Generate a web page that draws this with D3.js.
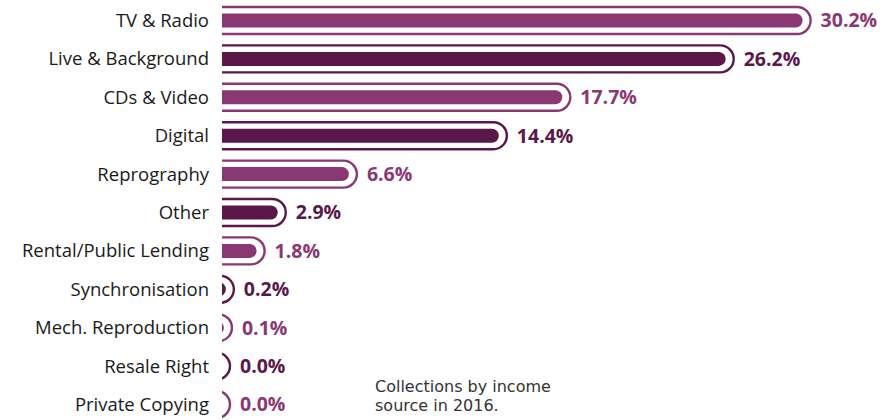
<!DOCTYPE html>
<html>
<head>
<meta charset="utf-8">
<script src="https://cdn.jsdelivr.net/npm/d3@7"></script>
<style>
  body { margin: 0; background: #fff; }
  svg { display: block; font-family: "Open Sans", Lato, sans-serif; }
</style>
</head>
<body>
<div id="chart"></div>
<script>
const w = 892;
const h = 420;

const categories = [
    "TV & Radio",
    "Live & Background",
    "CDs & Video",
    "Digital",
    "Reprography",
    "Other",
    "Rental/Public Lending",
    "Synchronisation",
    "Mech. Reproduction",
    "Resale Right",
    "Private Copying"
];
const shares = [30.2, 26.2, 17.7, 14.4, 6.6, 2.9, 1.8, 0.2, 0.1, 0.0, 0.0];
const note = ["Collections by income", "source in 2016."];

const light = "#8a3873";
const dark = "#5b1749";
const color = i => i % 2 === 0 ? light : dark;

const left = 222;

const xScale = d3.scaleLinear()
    .domain([0, 31])
    .range([left, 818]);

const yScale = d3.scalePoint()
    .domain(categories)
    .range([20.5, 404.5]);

const data = categories.map((c, i) => ({ name: c, value: shares[i], i: i }));

const svg = d3.select('#chart')
    .append('svg')
    .attr('width', w)
    .attr('height', h);

// clip in each row's local space, cuts the capsules flat on the left
svg.append('clipPath')
    .attr('id', 'clip')
    .append('rect')
    .attr('x', left)
    .attr('y', -20)
    .attr('width', w - left)
    .attr('height', 40);

const rows = svg.selectAll('g.row')
    .data(data)
    .enter()
    .append('g')
    .attr('class', 'row')
    .attr('transform', d => 'translate(0,' + yScale(d.name) + ')');

const bars = rows.append('g').attr('clip-path', 'url(#clip)');

// outline capsule
bars.append('rect')
    .attr('x', left - 40)
    .attr('y', -13.5)
    .attr('height', 27)
    .attr('width', d => xScale(d.value) + 8 - (left - 40))
    .attr('rx', 13.5)
    .attr('fill', 'none')
    .attr('stroke', d => color(d.i))
    .attr('stroke-width', 2.4);

// inner bar
bars.append('rect')
    .attr('x', left - 40)
    .attr('y', -7)
    .attr('height', 14)
    .attr('width', d => Math.max(0, xScale(d.value) - (left - 40)))
    .attr('rx', 7)
    .attr('fill', d => color(d.i));

// category labels
rows.append('text')
    .attr('x', 209)
    .attr('y', 0)
    .attr('dy', '0.35em')
    .attr('text-anchor', 'end')
    .attr('fill', '#1a1a1a')
    .style('font-size', '18.5px')
    .text(d => d.name);

// value labels
rows.append('text')
    .attr('x', d => xScale(d.value) + 18)
    .attr('y', 0)
    .attr('dy', '0.35em')
    .attr('fill', d => color(d.i))
    .style('font-size', '19.5px')
    .style('font-weight', 'bold')
    .text(d => d.value.toFixed(1) + '%');

// footnote
svg.append('g')
    .selectAll('text')
    .data(note)
    .enter()
    .append('text')
    .attr('x', 375)
    .attr('y', (d, i) => 392 + i * 19)
    .attr('fill', '#333')
    .style('font-family', '"DejaVu Sans", sans-serif')
    .style('font-size', '16px')
    .text(d => d);
</script>
</body>
</html>
